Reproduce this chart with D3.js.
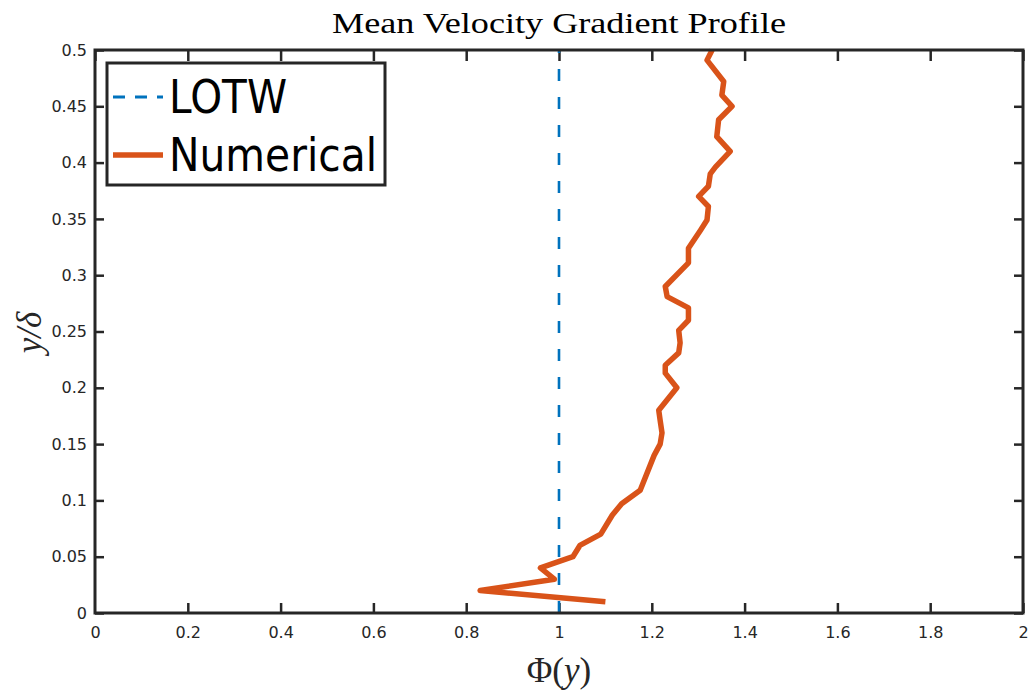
<!DOCTYPE html>
<html>
<head>
<meta charset="utf-8">
<script src="https://cdn.jsdelivr.net/npm/d3@7"></script>
<style>
	body { margin: 0; background: #fff; }
	.tick text { font-family: "DejaVu Sans", sans-serif; font-size: 16px; fill: #262626; }
</style>
</head>
<body>
<div id="chartDiv"></div>
<script>
;(function() {

	// Numerical profile: Phi(y) against y/delta
	var phiValues = [1.10, 0.83, 0.99, 0.96, 1.03, 1.045, 1.09, 1.115, 1.135, 1.175, 1.205, 1.218, 1.222, 1.218, 1.215,
		1.254, 1.229, 1.229, 1.258, 1.261, 1.258, 1.279, 1.279, 1.233, 1.229, 1.279, 1.279, 1.305, 1.319, 1.322,
		1.301, 1.322, 1.326, 1.337, 1.369, 1.340, 1.344, 1.373, 1.351, 1.355, 1.319, 1.33];
	var yValues = [0.010, 0.020, 0.030, 0.040, 0.050, 0.060, 0.070, 0.087, 0.097, 0.109, 0.140, 0.150, 0.160, 0.171, 0.180,
		0.200, 0.213, 0.220, 0.231, 0.240, 0.251, 0.260, 0.271, 0.281, 0.290, 0.311, 0.324, 0.340, 0.349, 0.361,
		0.370, 0.379, 0.390, 0.396, 0.410, 0.423, 0.438, 0.450, 0.460, 0.472, 0.491, 0.500];
	var lotwValue = 1;
	var xTicks = [0, 0.2, 0.4, 0.6, 0.8, 1, 1.2, 1.4, 1.6, 1.8, 2];
	var yTicks = [0, 0.05, 0.1, 0.15, 0.2, 0.25, 0.3, 0.35, 0.4, 0.45, 0.5];
	var legendLabels = ["LOTW", "Numerical"];

	var width = 1031;
	var height = 692;
	var margin = { top: 50, right: 8, bottom: 79, left: 95 };
	var chartWidth = width - margin.left - margin.right;
	var chartHeight = height - margin.top - margin.bottom;
	var axisColor = "#262626";
	var blue = "#0072BD";
	var orange = "#D95319";

	var chart = d3.select("#chartDiv").append("svg")
		.attr("width", width)
		.attr("height", height);

	var plotArea = chart.append("g")
		.attr("transform", "translate(" + margin.left + "," + margin.top + ")");

	var xScale = d3.scaleLinear().domain([0, 2]).range([0, chartWidth]);
	var yScale = d3.scaleLinear().domain([0, 0.5]).range([chartHeight, 0]);

	// axes, ticks pointing inwards
	function styleAxis(g) {
		g.select(".domain").remove();
		g.selectAll(".tick line").attr("stroke", axisColor).attr("stroke-width", 2.5);
	}

	plotArea.append("g")
		.attr("transform", "translate(0," + chartHeight + ")")
		.call(d3.axisBottom(xScale).tickValues(xTicks).tickSize(-10).tickPadding(14).tickFormat(d3.format("")))
		.call(styleAxis)
		.call(function(g) { g.select(".tick line").remove(); });

	plotArea.append("g")
		.call(d3.axisTop(xScale).tickValues(xTicks).tickSize(-11).tickFormat(""))
		.call(styleAxis);

	plotArea.append("g")
		.call(d3.axisLeft(yScale).tickValues(yTicks).tickSize(-9).tickPadding(8).tickFormat(d3.format("")))
		.call(styleAxis);

	plotArea.append("g")
		.attr("transform", "translate(" + chartWidth + ",0)")
		.call(d3.axisRight(yScale).tickValues(yTicks).tickSize(-9).tickFormat(""))
		.call(styleAxis);

	// LOTW reference line
	plotArea.append("line")
		.attr("x1", xScale(lotwValue)).attr("x2", xScale(lotwValue))
		.attr("y1", yScale(0)).attr("y2", yScale(0.5))
		.attr("stroke", blue)
		.attr("stroke-width", 2.6)
		.attr("stroke-dasharray", "12,16");

	// numerical profile
	var points = phiValues.map(function(p, i) { return [p, yValues[i]]; });
	var line = d3.line()
		.x(function(d) { return xScale(d[0]); })
		.y(function(d) { return yScale(d[1]); });

	plotArea.append("path")
		.datum(points)
		.attr("d", line)
		.attr("fill", "none")
		.attr("stroke", orange)
		.attr("stroke-width", 5.5)
		.attr("stroke-linejoin", "round");

	// box
	plotArea.append("rect")
		.attr("width", chartWidth)
		.attr("height", chartHeight)
		.attr("fill", "none")
		.attr("stroke", axisColor)
		.attr("stroke-width", 3);

	// title
	chart.append("text")
		.attr("x", margin.left + chartWidth / 2)
		.attr("y", 33)
		.attr("text-anchor", "middle")
		.attr("textLength", 454)
		.attr("lengthAdjust", "spacingAndGlyphs")
		.style("font-family", "'Liberation Serif', serif")
		.style("font-size", "30px")
		.text("Mean Velocity Gradient Profile");

	// x axis header label
	var xLabel = chart.append("text")
		.attr("x", margin.left + chartWidth / 2)
		.attr("y", 682)
		.attr("text-anchor", "middle")
		.style("font-family", "'Liberation Serif', serif")
		.style("font-size", "35px")
		.attr("fill", "#262626");
	xLabel.append("tspan").text("Φ(");
	xLabel.append("tspan").style("font-style", "italic").text("y");
	xLabel.append("tspan").text(")");

	// y axis header label
	chart.append("text")
		.attr("transform", "translate(41," + (margin.top + chartHeight / 2 + 1) + ") rotate(-90)")
		.attr("text-anchor", "middle")
		.style("font-family", "'Liberation Serif', serif")
		.style("font-size", "35px")
		.style("font-style", "italic")
		.attr("fill", "#262626")
		.text("y/δ");

	// legend
	var legend = chart.append("g").attr("transform", "translate(107,63)");
	legend.append("rect")
		.attr("width", 278)
		.attr("height", 122)
		.attr("fill", "#fff")
		.attr("stroke", axisColor)
		.attr("stroke-width", 3);

	var legendStyles = [
		{ color: blue, width: 3, dash: "12,10" },
		{ color: orange, width: 5.5, dash: null }
	];
	legendLabels.forEach(function(label, i) {
		var ly = 34 + i * 58;
		legend.append("line")
			.attr("x1", 6).attr("x2", 56)
			.attr("y1", ly).attr("y2", ly)
			.attr("stroke", legendStyles[i].color)
			.attr("stroke-width", legendStyles[i].width)
			.attr("stroke-dasharray", legendStyles[i].dash);
		legend.append("text")
			.attr("x", 62)
			.attr("y", ly + 16)
			.attr("textLength", i === 0 ? 118 : 208)
			.attr("lengthAdjust", "spacingAndGlyphs")
			.style("font-family", "'DejaVu Sans', sans-serif")
			.style("font-size", "47px")
			.text(label);
	});

})();
</script>
</body>
</html>
